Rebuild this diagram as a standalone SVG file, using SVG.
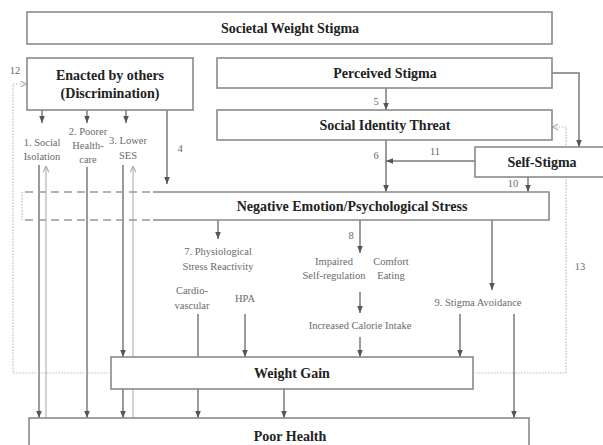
<svg xmlns="http://www.w3.org/2000/svg" width="603" height="445" viewBox="0 0 603 445">
<style>
.box{fill:#fff;stroke:#8a8a8a;stroke-width:1.6}
.t{font-family:"Liberation Serif",serif;font-weight:bold;font-size:14px;fill:#222;text-anchor:middle}
.s{font-family:"Liberation Serif",serif;font-size:10.5px;fill:#6a6a6a;text-anchor:middle}
.c{fill:none;stroke:#7a7a7a;stroke-width:1.5}
.l{fill:none;stroke:#b5b5b5;stroke-width:1.2}
.d{fill:none;stroke:#bdbdbd;stroke-width:1.2;stroke-dasharray:1.5 1.5}
.dash{fill:none;stroke:#999;stroke-width:1.5;stroke-dasharray:8 5}
</style>
<defs>
<marker id="ah" viewBox="0 0 10 10" refX="10" refY="5" markerWidth="7" markerHeight="7" markerUnits="userSpaceOnUse" orient="auto"><path d="M0,1 L10,5 L0,9 z" fill="#555"/></marker>
<marker id="al" viewBox="0 0 10 10" refX="10" refY="5" markerWidth="7" markerHeight="7" markerUnits="userSpaceOnUse" orient="auto"><path d="M1,1 L10,5 L1,9" fill="none" stroke="#aaa" stroke-width="1.5"/></marker>
</defs>
<rect width="603" height="445" fill="#fff"/>
<g id="connectors">
<path class="c" d="M42,110 V123" marker-end="url(#ah)"/>
<path class="c" d="M87,110 V123" marker-end="url(#ah)"/>
<path class="c" d="M126,110 V123" marker-end="url(#ah)"/>
<path class="c" d="M167,110 V184" marker-end="url(#ah)"/>
<path class="c" d="M386,88 V110" marker-end="url(#ah)"/>
<path class="c" d="M552,73 H579 V147" marker-end="url(#ah)"/>
<path class="c" d="M386,140 V192" marker-end="url(#ah)"/>
<path class="c" d="M475,161 H386" marker-end="url(#ah)"/>
<path class="c" d="M528,177 V192" marker-end="url(#ah)"/>
<path class="c" d="M218,220 V239" marker-end="url(#ah)"/>
<path class="c" d="M360,220 V253" marker-end="url(#ah)"/>
<path class="c" d="M360,292 V313" marker-end="url(#ah)"/>
<path class="c" d="M360,337 V357" marker-end="url(#ah)"/>
<path class="c" d="M492,220 V290" marker-end="url(#ah)"/>
<path class="c" d="M460,314 V357" marker-end="url(#ah)"/>
<path class="c" d="M514,314 V418" marker-end="url(#ah)"/>
<path class="c" d="M198,314 V357"/>
<path class="c" d="M245,314 V357" marker-end="url(#ah)"/>
<path class="c" d="M198,389 V418" marker-end="url(#ah)"/>
<path class="c" d="M284,389 V418" marker-end="url(#ah)"/>
<path class="c" d="M39,165 V418" marker-end="url(#ah)"/>
<path class="c" d="M87,167 V418" marker-end="url(#ah)"/>
<path class="c" d="M123,165 V357" marker-end="url(#ah)"/>
<path class="c" d="M123,389 V418" marker-end="url(#ah)"/>
<path class="l" d="M46,418 V166" marker-end="url(#al)"/>
<path class="l" d="M133,418 V166" marker-end="url(#al)"/>
<path class="d" d="M111,373 H13 V84 H27" marker-end="url(#al)"/>
<path class="d" d="M473,373 H566 V127 H552" marker-end="url(#al)"/>
</g>
<g id="societal"><rect class="box" x="27" y="12" width="525" height="32"/><text class="t" x="290" y="33">Societal Weight Stigma</text></g>
<g id="enacted"><rect class="box" x="27" y="58" width="166" height="52"/><text class="t" x="110" y="80">Enacted by others</text><text class="t" x="110" y="98">(Discrimination)</text></g>
<g id="perceived"><rect class="box" x="217" y="58" width="335" height="30"/><text class="t" x="385" y="78">Perceived Stigma</text></g>
<g id="sit"><rect class="box" x="217" y="110" width="335" height="30"/><text class="t" x="385" y="130">Social Identity Threat</text></g>
<g id="selfstigma"><rect class="box" x="475" y="147" width="140" height="30"/><text class="t" x="542" y="167">Self-Stigma</text></g>
<g id="negemo">
<rect x="153" y="192" width="396" height="28" fill="#fff"/>
<path class="box" d="M153,192 H549 V220 H153" fill="none"/>
<path class="dash" d="M150,192 H22 M150,220 H22"/>
<path class="d" d="M22,192 V220" stroke="#999"/>
<text class="t" x="352" y="211">Negative Emotion/Psychological Stress</text>
</g>
<g id="weightgain"><rect class="box" x="111" y="357" width="362" height="32"/><text class="t" x="292" y="378">Weight Gain</text></g>
<g id="poorhealth"><rect class="box" x="29" y="418" width="500" height="40"/><text class="t" x="290" y="441">Poor Health</text></g>
<g id="labels">
<text class="s" x="42" y="146">1. Social</text><text class="s" x="42" y="160">Isolation</text>
<text class="s" x="88" y="135">2. Poorer</text><text class="s" x="88" y="149">Health-</text><text class="s" x="88" y="163">care</text>
<text class="s" x="128" y="144">3. Lower</text><text class="s" x="128" y="159">SES</text>
<text class="s" x="180" y="152">4</text>
<text class="s" x="376" y="105">5</text>
<text class="s" x="376" y="159">6</text>
<text class="s" x="435" y="155">11</text>
<text class="s" x="513" y="187">10</text>
<text class="s" x="580" y="270">13</text>
<text class="s" x="15" y="74">12</text>
<text class="s" x="218" y="255">7. Physiological</text><text class="s" x="218" y="270">Stress Reactivity</text>
<text class="s" x="351" y="239">8</text>
<text class="s" x="334" y="265">Impaired</text><text class="s" x="334" y="279">Self-regulation</text>
<text class="s" x="391" y="265">Comfort</text><text class="s" x="391" y="279">Eating</text>
<text class="s" x="192" y="294">Cardio-</text><text class="s" x="192" y="309">vascular</text>
<text class="s" x="245" y="302">HPA</text>
<text class="s" x="360" y="329">Increased Calorie Intake</text>
<text class="s" x="478" y="306">9. Stigma Avoidance</text>
</g>
</svg>
